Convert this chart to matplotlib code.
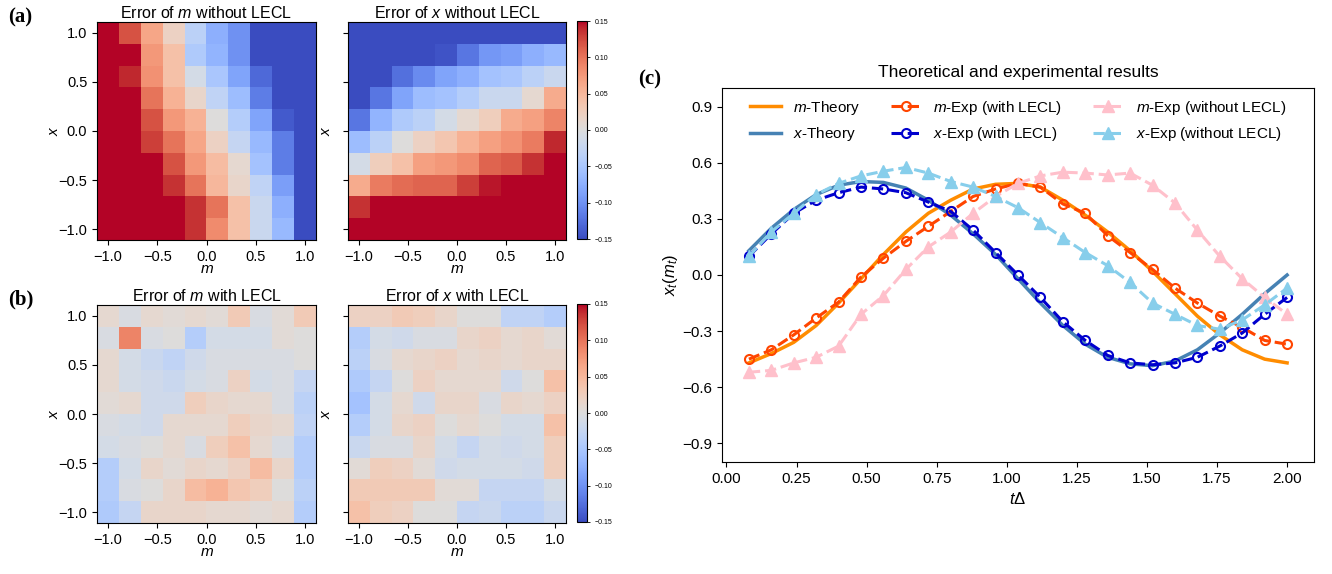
import matplotlib
matplotlib.use("Agg")
import matplotlib.pyplot as plt
import numpy as np
from matplotlib.lines import Line2D

plt.rcParams["font.family"] = ["Liberation Sans", "DejaVu Sans"]
plt.rcParams["mathtext.fontset"] = "custom"
plt.rcParams["mathtext.rm"] = "Liberation Sans"
plt.rcParams["mathtext.it"] = "Liberation Sans:italic"
plt.rcParams["mathtext.bf"] = "Liberation Sans:bold"

# heatmap grid (m along columns, x along rows, top row is x = 1.0)
grid = [-1.0, -0.778, -0.556, -0.333, -0.111, 0.111, 0.333, 0.556, 0.778, 1.0]

err_m_without = [
    [0.15, 0.12, 0.065, 0.02, -0.035, -0.075, -0.10, -0.15, -0.15, -0.15],
    [0.15, 0.15, 0.075, 0.04, -0.045, -0.07, -0.10, -0.15, -0.15, -0.15],
    [0.15, 0.14, 0.08, 0.04, -0.01, -0.05, -0.085, -0.13, -0.15, -0.15],
    [0.15, 0.15, 0.10, 0.055, 0.015, -0.03, -0.06, -0.115, -0.15, -0.15],
    [0.15, 0.15, 0.12, 0.075, 0.055, 0.00, -0.04, -0.085, -0.14, -0.15],
    [0.15, 0.15, 0.13, 0.10, 0.065, 0.02, -0.025, -0.065, -0.115, -0.15],
    [0.15, 0.15, 0.15, 0.12, 0.075, 0.045, 0.01, -0.055, -0.115, -0.15],
    [0.15, 0.15, 0.15, 0.135, 0.10, 0.05, 0.015, -0.03, -0.09, -0.15],
    [0.15, 0.15, 0.15, 0.15, 0.135, 0.10, 0.04, -0.02, -0.075, -0.15],
    [0.15, 0.15, 0.15, 0.15, 0.135, 0.085, 0.04, -0.02, -0.065, -0.15],
]

err_x_without = [
    [-0.15, -0.15, -0.15, -0.15, -0.15, -0.15, -0.15, -0.15, -0.15, -0.15],
    [-0.15, -0.15, -0.15, -0.15, -0.145, -0.12, -0.095, -0.09, -0.075, -0.065],
    [-0.15, -0.15, -0.125, -0.105, -0.085, -0.075, -0.055, -0.05, -0.035, -0.02],
    [-0.15, -0.12, -0.085, -0.06, -0.055, -0.04, -0.02, -0.02, 0.01, 0.06],
    [-0.12, -0.07, -0.045, -0.035, -0.01, 0.01, 0.025, 0.06, 0.07, 0.09],
    [-0.06, -0.035, 0.00, 0.02, 0.035, 0.055, 0.07, 0.08, 0.095, 0.14],
    [-0.01, 0.025, 0.04, 0.07, 0.075, 0.085, 0.11, 0.115, 0.135, 0.15],
    [0.06, 0.095, 0.105, 0.11, 0.11, 0.13, 0.145, 0.15, 0.15, 0.15],
    [0.135, 0.15, 0.15, 0.15, 0.15, 0.15, 0.15, 0.15, 0.15, 0.15],
    [0.15, 0.15, 0.15, 0.15, 0.15, 0.15, 0.15, 0.15, 0.15, 0.15],
]

err_m_with = [
    [0.01, -0.005, 0.01, 0.005, 0.01, 0.005, 0.03, -0.005, 0.005, 0.03],
    [-0.005, 0.09, -0.005, 0.00, -0.04, -0.01, -0.01, -0.01, 0.005, 0.00],
    [0.01, -0.01, -0.02, -0.03, -0.015, -0.005, -0.005, -0.005, -0.005, 0.00],
    [0.01, -0.01, -0.015, -0.02, -0.01, -0.005, 0.02, -0.01, -0.005, -0.025],
    [0.005, 0.01, -0.015, -0.015, 0.025, 0.015, 0.01, 0.01, -0.005, -0.035],
    [-0.005, -0.01, -0.015, 0.01, 0.01, 0.01, 0.025, 0.015, 0.01, -0.03],
    [-0.01, -0.005, 0.00, 0.01, -0.005, 0.025, 0.04, 0.01, -0.005, -0.04],
    [-0.04, -0.01, 0.015, 0.005, 0.015, 0.01, 0.02, 0.045, 0.015, -0.04],
    [-0.04, -0.005, 0.00, 0.015, 0.045, 0.055, 0.035, 0.025, 0.00, -0.035],
    [-0.045, -0.025, 0.015, 0.015, 0.015, 0.01, 0.01, 0.005, 0.01, -0.04],
]

err_x_with = [
    [0.02, 0.02, 0.03, 0.025, 0.015, 0.00, 0.00, -0.03, -0.03, -0.04],
    [-0.04, -0.01, -0.015, -0.005, -0.005, 0.015, 0.02, 0.01, 0.015, 0.005],
    [-0.035, -0.005, 0.01, 0.015, 0.02, 0.01, 0.015, 0.01, 0.015, 0.015],
    [-0.045, -0.025, 0.00, 0.02, 0.01, 0.01, 0.01, -0.015, 0.00, 0.04],
    [-0.055, -0.01, 0.01, -0.015, 0.015, 0.015, -0.005, 0.015, 0.01, 0.02],
    [-0.04, -0.01, 0.015, 0.02, 0.00, 0.01, 0.00, -0.01, -0.01, 0.04],
    [-0.02, -0.005, -0.005, 0.015, -0.01, -0.025, -0.01, -0.015, -0.01, 0.025],
    [0.005, 0.025, 0.02, 0.005, -0.015, -0.01, -0.01, -0.01, -0.015, 0.025],
    [0.03, 0.03, 0.03, 0.03, 0.005, 0.005, -0.025, -0.025, -0.025, -0.01],
    [0.04, 0.025, 0.02, 0.00, 0.00, -0.025, -0.02, -0.035, -0.035, -0.02],
]

# time series for panel (c)
t_delta = [0.08, 0.16, 0.24, 0.32, 0.40, 0.48, 0.56, 0.64, 0.72, 0.80,
           0.88, 0.96, 1.04, 1.12, 1.20, 1.28, 1.36, 1.44, 1.52, 1.60,
           1.68, 1.76, 1.84, 1.92, 2.00]
m_theory = [-0.47, -0.42, -0.36, -0.27, -0.15, -0.02, 0.11, 0.23, 0.33, 0.40,
            0.46, 0.485, 0.49, 0.47, 0.40, 0.32, 0.23, 0.13, 0.02, -0.10,
            -0.22, -0.32, -0.40, -0.45, -0.47]
x_theory = [0.13, 0.25, 0.35, 0.43, 0.48, 0.50, 0.495, 0.465, 0.40, 0.32,
            0.22, 0.11, -0.02, -0.15, -0.27, -0.37, -0.44, -0.475, -0.485, -0.46,
            -0.40, -0.31, -0.21, -0.10, 0.00]
m_exp_with = [-0.45, -0.40, -0.32, -0.23, -0.145, -0.01, 0.09, 0.18, 0.26, 0.34,
              0.42, 0.46, 0.49, 0.47, 0.38, 0.33, 0.21, 0.12, 0.03, -0.07,
              -0.15, -0.22, -0.28, -0.35, -0.37]
x_exp_with = [0.10, 0.22, 0.33, 0.40, 0.44, 0.47, 0.46, 0.44, 0.39, 0.34,
              0.24, 0.12, 0.00, -0.12, -0.25, -0.35, -0.43, -0.47, -0.48, -0.47,
              -0.44, -0.38, -0.31, -0.21, -0.12]
m_exp_without = [-0.52, -0.51, -0.47, -0.44, -0.38, -0.21, -0.11, 0.03, 0.15, 0.23,
                 0.33, 0.42, 0.49, 0.53, 0.55, 0.545, 0.535, 0.545, 0.48, 0.385,
                 0.24, 0.10, -0.02, -0.12, -0.21]
x_exp_without = [0.10, 0.23, 0.33, 0.43, 0.49, 0.53, 0.555, 0.575, 0.545, 0.50,
                 0.47, 0.42, 0.36, 0.28, 0.20, 0.12, 0.05, -0.04, -0.15, -0.21,
                 -0.27, -0.29, -0.24, -0.16, -0.07]

W, H = 1332, 574
fig = plt.figure(figsize=(W / 100, H / 100), dpi=100)


def add_axes_px(left, top, right, bottom):
    return fig.add_axes([left / W, 1 - bottom / H, (right - left) / W, (bottom - top) / H])


def draw_heatmap(ax, data, title, show_ylabels=True):
    half = (grid[1] - grid[0]) / 2
    im = ax.imshow(np.array(data), cmap="coolwarm", vmin=-0.15, vmax=0.15,
                   extent=[grid[0] - half, grid[-1] + half, grid[0] - half, grid[-1] + half],
                   origin="upper", aspect="auto", interpolation="nearest")
    ticks = [-1.0, -0.5, 0.0, 0.5, 1.0]
    ax.set_xticks(ticks)
    ax.set_yticks(ticks)
    ax.tick_params(labelsize=10.5)
    if not show_ylabels:
        ax.set_yticklabels([])
    ax.set_xlabel("$m$", fontsize=11, labelpad=-1)
    ax.set_ylabel("$x$", fontsize=11, labelpad=-2 if show_ylabels else 4)
    ax.set_title(title, fontsize=11.5, pad=3)
    return im


def draw_colorbar(im, cax):
    levels = [-0.15, -0.10, -0.05, 0.00, 0.05, 0.10, 0.15]
    cb = fig.colorbar(im, cax=cax, ticks=levels)
    cb.ax.tick_params(labelsize=5, length=2, width=0.6)
    cb.ax.set_yticklabels([f"{v:.2f}".replace("-", "\u2212") for v in levels])
    cb.outline.set_linewidth(0.8)


ax1 = add_axes_px(97, 22, 316, 240)
im = draw_heatmap(ax1, err_m_without, "Error of $m$ without LECL")
ax2 = add_axes_px(348, 22, 566, 240)
im = draw_heatmap(ax2, err_x_without, "Error of $x$ without LECL", show_ylabels=False)
draw_colorbar(im, add_axes_px(577, 21, 587, 239))

ax3 = add_axes_px(97, 305, 316, 523)
im = draw_heatmap(ax3, err_m_with, "Error of $m$ with LECL")
ax4 = add_axes_px(348, 305, 566, 523)
im = draw_heatmap(ax4, err_x_with, "Error of $x$ with LECL", show_ylabels=False)
draw_colorbar(im, add_axes_px(577, 304, 587, 522))

# panel (c)
ax = add_axes_px(722, 88, 1314, 462)
lw = 2.2
ax.plot(t_delta, m_theory, color="darkorange", lw=lw + 0.3, label="$m$-Theory")
ax.plot(t_delta, x_theory, color="steelblue", lw=lw + 0.3, label="$x$-Theory")
ax.plot(t_delta, m_exp_with, color="orangered", lw=lw, ls="--", marker="o",
        ms=6.5, mfc="none", mew=1.5, label="$m$-Exp (with LECL)")
ax.plot(t_delta, x_exp_with, color="mediumblue", lw=lw, ls="--", marker="o",
        ms=6.5, mfc="none", mew=1.5, label="$x$-Exp (with LECL)")
ax.plot(t_delta, m_exp_without, color="pink", lw=lw, ls="--", marker="^",
        ms=8, label="$m$-Exp (without LECL)")
ax.plot(t_delta, x_exp_without, color="skyblue", lw=lw, ls="--", marker="^",
        ms=8, label="$x$-Exp (without LECL)")
ax.set_ylim(-1.0, 1.0)
ax.set_yticks([-0.9, -0.6, -0.3, 0.0, 0.3, 0.6, 0.9])
ax.set_xticks([0.00, 0.25, 0.50, 0.75, 1.00, 1.25, 1.50, 1.75, 2.00])

ax.tick_params(labelsize=11)
ax.set_xlabel(r"$t\Delta$", fontsize=12)
ax.set_ylabel("$x_t(m_t)$", fontsize=12, labelpad=2)
ax.set_title("Theoretical and experimental results", fontsize=12.5, pad=8)

handles, labels = ax.get_legend_handles_labels()
order = [0, 1, 2, 3, 4, 5]
ax.legend([handles[i] for i in order], [labels[i] for i in order], ncol=3,
          loc="upper center", frameon=False, fontsize=11,
          borderaxespad=0.3, labelspacing=0.55)

serif = ["Liberation Serif", "DejaVu Serif"]
fig.text(8 / W, 1 - 17 / H, "(a)", fontsize=15, fontweight="bold", family=serif, va="center")
fig.text(8 / W, 1 - 299 / H, "(b)", fontsize=15, fontweight="bold", family=serif, va="center")
fig.text(638 / W, 1 - 79 / H, "(c)", fontsize=15, fontweight="bold", family=serif, va="center")

fig.savefig("out.png", dpi=100)
